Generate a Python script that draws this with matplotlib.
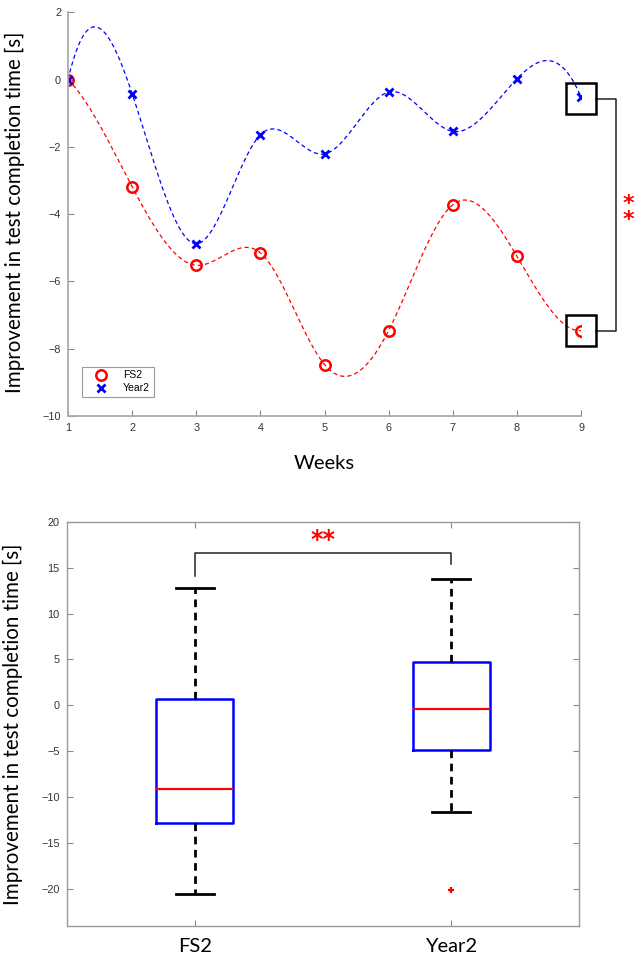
import matplotlib
matplotlib.use("Agg")
import matplotlib.pyplot as plt
import numpy as np

plt.rcParams['lines.scale_dashes'] = False

# weekly improvement values
weeks = [1, 2, 3, 4, 5, 6, 7, 8, 9]
fs2_week = [0.0, -3.19, -5.52, -5.15, -8.47, -7.46, -3.72, -5.25, -7.46]
year2_week = [0.0, -0.42, -4.88, -1.64, -2.21, -0.37, -1.54, 0.02, -0.52]

# box plot summaries
groups = ['FS2', 'Year2']
box_whislo = [-20.49, -11.6]
box_q1 = [-12.77, -4.84]
box_med = [-9.1, -0.4]
box_q3 = [0.71, 4.7]
box_whishi = [12.74, 13.75]
box_fliers = [[], [-20.13]]

label_font = 'Lato'
tick_font = 'Liberation Sans'
ylab = 'Improvement in test completion time [s]'


def spline_nak(x, y, xs):
    # cubic spline with not-a-knot ends (like MATLAB spline)
    x = np.asarray(x, float)
    y = np.asarray(y, float)
    n = len(x)
    h = np.diff(x)
    A = np.zeros((n, n))
    b = np.zeros(n)
    for i in range(1, n - 1):
        A[i, i - 1] = h[i - 1]
        A[i, i] = 2 * (h[i - 1] + h[i])
        A[i, i + 1] = h[i]
        b[i] = 6 * ((y[i + 1] - y[i]) / h[i] - (y[i] - y[i - 1]) / h[i - 1])
    A[0, 0], A[0, 1], A[0, 2] = h[1], -(h[0] + h[1]), h[0]
    A[-1, -3], A[-1, -2], A[-1, -1] = h[-1], -(h[-2] + h[-1]), h[-2]
    M = np.linalg.solve(A, b)
    idx = np.clip(np.searchsorted(x, xs) - 1, 0, n - 2)
    hi = h[idx]
    t1 = x[idx + 1] - xs
    t0 = xs - x[idx]
    return (M[idx] * t1 ** 3 / (6 * hi) + M[idx + 1] * t0 ** 3 / (6 * hi)
            + (y[idx] / hi - M[idx] * hi / 6) * t1
            + (y[idx + 1] / hi - M[idx + 1] * hi / 6) * t0)


fig = plt.figure(figsize=(6.43, 9.61), dpi=100)

# ---------------- top: weekly curves ----------------
ax1 = fig.add_axes([0.1058, 0.5671, 0.7978, 0.4201])
xs = np.linspace(weeks[0], weeks[-1], 400)
ax1.plot(xs, spline_nak(weeks, fs2_week, xs), color='red', lw=0.9,
         dashes=(3, 2.2))
ax1.plot(xs, spline_nak(weeks, year2_week, xs), color='blue', lw=0.9,
         dashes=(3, 2.2))
h_fs, = ax1.plot(weeks, fs2_week, 'o', ls='none', mfc='none', mec='red',
                 ms=7.5, mew=1.8, label='FS2')
h_yr, = ax1.plot(weeks, year2_week, 'x', ls='none', color='blue',
                 ms=6, mew=2.0, label='Year2')

ax1.set_xlim(1, 9)
ax1.set_ylim(-10, 2)
ax1.set_xticks(weeks)
ax1.set_yticks(np.arange(-10, 3, 2))
ax1.spines['top'].set_visible(False)
ax1.spines['right'].set_visible(False)
for s in ['left', 'bottom']:
    ax1.spines[s].set_color('#aaaaaa')
    ax1.spines[s].set_linewidth(1.3)
ax1.tick_params(direction='in', length=4, color='#888888', labelsize=7.8,
                labelcolor='#333333', pad=5)
for lab in ax1.get_xticklabels() + ax1.get_yticklabels():
    lab.set_fontfamily(tick_font)
ax1.set_ylabel(ylab, fontsize=14.8, fontfamily=label_font)
ax1.yaxis.set_label_coords(-0.084, 0.504)
ax1.set_xlabel('Weeks', fontsize=14.5, fontfamily=label_font)
ax1.xaxis.set_label_coords(0.499, -0.097)

leg = ax1.legend(handles=[h_fs, h_yr], loc='lower left',
                 bbox_to_anchor=(0.027, 0.047), borderaxespad=0,
                 fancybox=False, framealpha=1, edgecolor='#999999',
                 prop={'family': tick_font, 'size': 7.5}, handlelength=3,
                 handletextpad=0.6, borderpad=0.35, labelspacing=0.3)
leg.get_frame().set_linewidth(0.8)

# significance boxes and bracket at week 9
bw, bh = 0.23, 0.46
for yc in (year2_week[-1] - 0.05, fs2_week[-1]):
    ax1.add_patch(plt.Rectangle((weeks[-1] - bw, yc - bh), 2 * bw, 2 * bh,
                                fill=False, ec='black', lw=1.8, clip_on=False,
                                zorder=5))
xb = weeks[-1] + 0.55
ax1.plot([weeks[-1] + bw, xb, xb, weeks[-1] + bw],
         [year2_week[-1] - 0.05, year2_week[-1] - 0.05, fs2_week[-1],
          fs2_week[-1]], color='#222222', lw=1.1, clip_on=False)
ax1.text(weeks[-1] + 0.74, -3.95, '*\n*', color='red', fontsize=16,
         fontweight='bold', ha='center', va='center', linespacing=0.75,
         clip_on=False)

# ---------------- bottom: box plot ----------------
ax2 = fig.add_axes([0.1037, 0.0367, 0.7972, 0.4204])
stats = []
for i in range(len(groups)):
    stats.append(dict(med=box_med[i], q1=box_q1[i], q3=box_q3[i],
                      whislo=box_whislo[i], whishi=box_whishi[i],
                      fliers=box_fliers[i], label=groups[i]))
ax2.bxp(stats, positions=[1, 2], widths=0.3, capwidths=[0.15, 0.15],
        boxprops=dict(color='blue', lw=1.8),
        medianprops=dict(color='red', lw=1.6),
        whiskerprops=dict(color='black', lw=2.0, dashes=(5.5, 4)),
        capprops=dict(color='black', lw=2.0),
        flierprops=dict(marker='+', mec='red', ms=5, mew=1.6))

ax2.set_xlim(0.5, 2.5)
ax2.set_ylim(-24, 20)
ax2.set_yticks(np.arange(-20, 21, 5))
ax2.set_xticks([1, 2])
ax2.set_xticklabels(groups)
for s in ax2.spines.values():
    s.set_color('#999999')
    s.set_linewidth(1.0)
ax2.tick_params(direction='in', length=4, color='#888888', top=True,
                right=True)
ax2.tick_params(axis='y', labelsize=7.8, labelcolor='#333333', pad=5)
ax2.tick_params(axis='x', labelsize=14.5, pad=9)
for lab in ax2.get_yticklabels():
    lab.set_fontfamily(tick_font)
for lab in ax2.get_xticklabels():
    lab.set_fontfamily(label_font)
ax2.set_ylabel(ylab, fontsize=14.8, fontfamily=label_font)
ax2.yaxis.set_label_coords(-0.085, 0.499)

# significance bracket
ax2.plot([1, 1, 2, 2], [14.1, 16.6, 16.6, 15.4], color='#222222', lw=1.1)
ax2.text(1.5, 18.0, '**', color='red', fontsize=17, fontweight='bold',
         ha='center', va='center')

fig.savefig('out.png', dpi=100)
